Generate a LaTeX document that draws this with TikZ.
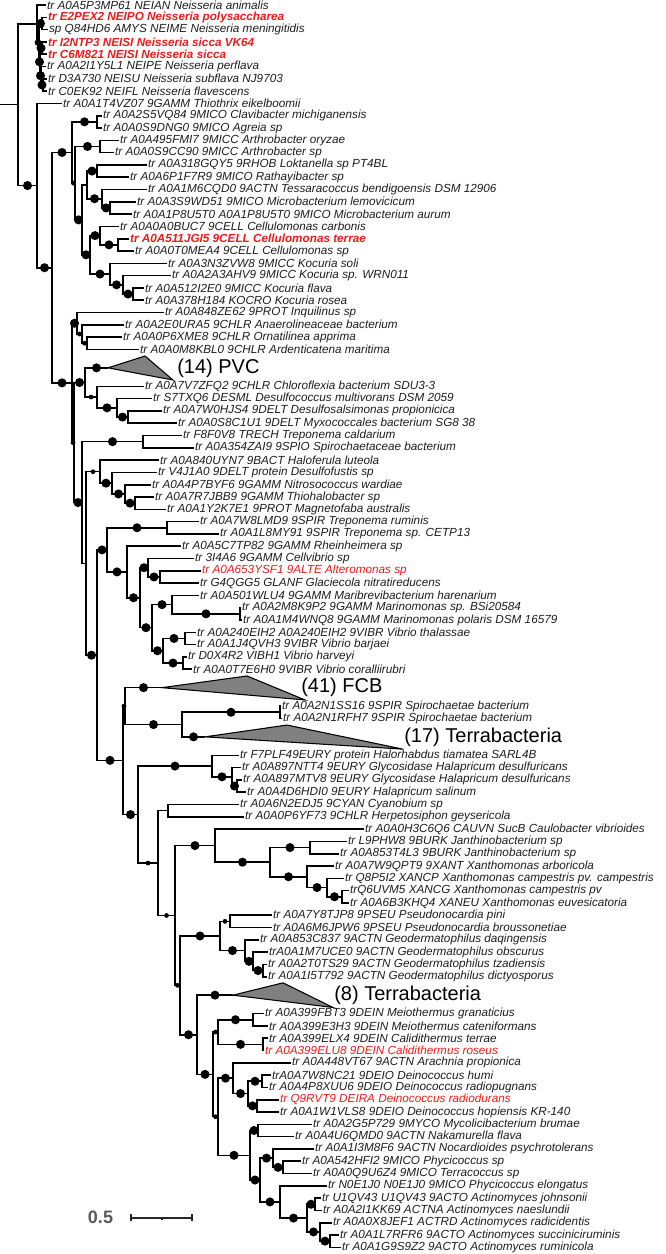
\documentclass[tikz,border=0pt]{standalone}
\usepackage{fontspec}
\setmainfont{Liberation Sans}
\definecolor{hlred}{RGB}{236,28,28}
\definecolor{leafink}{RGB}{30,30,30}
\definecolor{scalegray}{RGB}{90,90,90}
\tikzset{
  branch/.style={line width=1.2pt, black},
  leaf/.style={anchor=west, inner xsep=1pt, inner ysep=0pt, text=leafink, font=\fontsize{8.8}{10}\selectfont\itshape},
  hl/.style={leaf, text=hlred},
  hlb/.style={leaf, text=hlred, font=\fontsize{8.8}{10}\selectfont\bfseries\itshape},
  clade/.style={draw=black, line width=0.8pt, fill=black!50},
  cladelabel/.style={anchor=west, inner sep=0pt, font=\fontsize{15}{17}\selectfont},
  bsbig/.style={circle, fill=black, inner sep=0pt, minimum size=6.8pt},
  bsmid/.style={bsbig, minimum size=5pt},
  bssmall/.style={bsbig, minimum size=3.6pt},
  bsnone/.style={inner sep=0pt},
  scalebar/.style={line width=1.1pt, black!85}
}
\begin{document}
\begin{tikzpicture}[x=0.75pt, y=-9.225pt]
\fill[white] (0,-0.4065) rectangle (666,101.545);
\useasboundingbox (0,-0.4065) rectangle (666,101.545);

% internal nodes (x in px, y in leaf rows)
\coordinate (rootstub) at (0,8.105);
\coordinate (root) at (18,8.105);
\coordinate (Neis) at (37,1.53);
\coordinate (Neis2) at (39,3.06);
\coordinate (Neis3) at (42,1.5);
\coordinate (Neis4) at (40,4.625);
\coordinate (Neis5) at (42,3.5);
\coordinate (Neis6) at (41,5.75);
\coordinate (Neis7) at (43,6.5);
\coordinate (B) at (37,14.68);
\coordinate (C) at (52,21.36);
\coordinate (AC1) at (72,11.99);
\coordinate (Clav) at (97,9.5);
\coordinate (AC2) at (75,14.48);
\coordinate (Arthro) at (100,11.5);
\coordinate (AC5) at (82,17.47);
\coordinate (AC4) at (87,14.625);
\coordinate (Lok) at (97,13.5);
\coordinate (Tess) at (102,15.75);
\coordinate (Micro) at (110,16.5);
\coordinate (N90) at (90,20.31);
\coordinate (Cell) at (100,18.75);
\coordinate (CellT) at (118,19.5);
\coordinate (Koc) at (110,21.875);
\coordinate (Koc2) at (123,22.75);
\coordinate (Koc3) at (133,23.5);
\coordinate (E) at (72,30.72);
\coordinate (F) at (77,25.875);
\coordinate (F2) at (82,26.75);
\coordinate (F3) at (87,27.5);
\coordinate (E2) at (74,35.57);
\coordinate (H) at (85,30.69);
\coordinate (PVC) at (108,29.5);
\coordinate (I) at (97,31.875);
\coordinate (J) at (117,32.75);
\coordinate (K) at (128,33.5);
\coordinate (X) at (82,40.45);
\coordinate (Trep) at (143,35.5);
\coordinate (AD) at (86,45.40);
\coordinate (Hal) at (100,37.94);
\coordinate (Hal2) at (112,38.875);
\coordinate (Hal3) at (125,39.75);
\coordinate (Hal4) at (135,40.5);
\coordinate (AA) at (97,52.86);
\coordinate (P) at (107,44.30);
\coordinate (Q) at (167,42.5);
\coordinate (R) at (127,46.09);
\coordinate (S) at (140,48.19);
\coordinate (T) at (148,45.75);
\coordinate (V) at (160,46.5);
\coordinate (U) at (152,50.625);
\coordinate (W) at (172,48.75);
\coordinate (Z) at (240,49.5);
\coordinate (Y) at (163,52.5);
\coordinate (VibA) at (185,51.5);
\coordinate (VibB) at (183,53.5);
\coordinate (AB) at (123,61.41);
\coordinate (AE) at (125,57);
\coordinate (FCB) at (162,55.5);
\coordinate (AF) at (182,58.5);
\coordinate (Spiro) at (280,57.5);
\coordinate (T17) at (205,59.5);
\coordinate (AG) at (138,65.82);
\coordinate (Eury) at (212,61.875);
\coordinate (Eury2) at (232,62.75);
\coordinate (Eury3) at (237,63.5);
\coordinate (AH) at (158,69.76);
\coordinate (Cyan) at (168,65.5);
\coordinate (AI) at (175,74.02);
\coordinate (AJ) at (215,68.34);
\coordinate (AK) at (270,69.69);
\coordinate (Janth) at (310,68.5);
\coordinate (Xan) at (307,70.875);
\coordinate (Xan2) at (327,71.75);
\coordinate (Xan3) at (342,72.5);
\coordinate (AN) at (180,79.70);
\coordinate (AL) at (220,75.69);
\coordinate (Pseu) at (230,74.5);
\coordinate (Geo) at (245,76.875);
\coordinate (Geo2) at (253,77.75);
\coordinate (Geo3) at (263,78.5);
\coordinate (AO) at (197,83.72);
\coordinate (T8) at (233,80.5);
\coordinate (AP) at (213,86.94);
\coordinate (Therm) at (218,83.5);
\coordinate (Meio) at (253,82.5);
\coordinate (Cali) at (263,84.5);
\coordinate (AQ) at (218,90.38);
\coordinate (AR) at (233,87.25);
\coordinate (Dein) at (248,88.5);
\coordinate (DeinA) at (262,87.5);
\coordinate (DeinB) at (257,89.5);
\coordinate (AS) at (250,93.52);
\coordinate (AT) at (258,91.5);
\coordinate (AU) at (260,95.53);
\coordinate (AV) at (273,93.75);
\coordinate (AV2) at (283,94.5);
\coordinate (AW) at (280,97.31);
\coordinate (AX) at (307,98.625);
\coordinate (AY) at (315,97.5);
\coordinate (AZ) at (320,99.75);
\coordinate (BA) at (330,100.5);

% leaves
\node[leaf] (l0) at (45.5,0) {tr A0A5P3MP61 NEIAN Neisseria animalis};
\node[hlb] (l1) at (46.5,1) {tr E2PEX2 NEIPO Neisseria polysaccharea};
\node[leaf] (l2) at (47.5,2) {sp Q84HD6 AMYS NEIME Neisseria meningitidis};
\node[hlb] (l3) at (46.5,3) {tr I2NTP3 NEISI Neisseria sicca VK64};
\node[hlb] (l4) at (46.5,4) {tr C6M821 NEISI Neisseria sicca};
\node[leaf] (l5) at (45.5,5) {tr A0A2I1Y5L1 NEIPE Neisseria perflava};
\node[leaf] (l6) at (46.5,6) {tr D3A730 NEISU Neisseria subflava NJ9703};
\node[leaf] (l7) at (46.5,7) {tr C0EK92 NEIFL Neisseria flavescens};
\node[leaf] (l8) at (61.5,8) {tr A0A1T4VZ07 9GAMM Thiothrix eikelboomii};
\node[leaf] (l9) at (101.5,9) {tr A0A2S5VQ84 9MICO Clavibacter michiganensis};
\node[leaf] (l10) at (101.5,10) {tr A0A0S9DNG0 9MICO Agreia sp};
\node[leaf] (l11) at (118.5,11) {tr A0A495FMI7 9MICC Arthrobacter oryzae};
\node[leaf] (l12) at (113.5,12) {tr A0A0S9CC90 9MICC Arthrobacter sp};
\node[leaf] (l13) at (146.5,13) {tr A0A318GQY5 9RHOB Loktanella sp PT4BL};
\node[leaf] (l14) at (128.5,14) {tr A0A6P1F7R9 9MICO Rathayibacter sp};
\node[leaf] (l15) at (146.5,15) {tr A0A1M6CQD0 9ACTN Tessaracoccus bendigoensis DSM 12906};
\node[leaf] (l16) at (135.5,16) {tr A0A3S9WD51 9MICO Microbacterium lemovicicum};
\node[leaf] (l17) at (131.5,17) {tr A0A1P8U5T0 A0A1P8U5T0 9MICO Microbacterium aurum};
\node[leaf] (l18) at (118.5,18) {tr A0A0A0BUC7 9CELL Cellulomonas carbonis};
\node[hlb] (l19) at (128.5,19) {tr A0A511JGI5 9CELL Cellulomonas terrae};
\node[leaf] (l20) at (133.5,20) {tr A0A0T0MEA4 9CELL Cellulomonas sp};
\node[leaf] (l21) at (166.5,21) {tr A0A3N3ZVW8 9MICC Kocuria soli};
\node[leaf] (l22) at (170.5,22) {tr A0A2A3AHV9 9MICC Kocuria sp. WRN011};
\node[leaf] (l23) at (143.5,23) {tr A0A512I2E0 9MICC Kocuria flava};
\node[leaf] (l24) at (143.5,24) {tr A0A378H184 KOCRO Kocuria rosea};
\node[leaf] (l25) at (163.5,25) {tr A0A848ZE62 9PROT Inquilinus sp};
\node[leaf] (l26) at (123.5,26) {tr A0A2E0URA5 9CHLR Anaerolineaceae bacterium};
\node[leaf] (l27) at (121.5,27) {tr A0A0P6XME8 9CHLR Ornatilinea apprima};
\node[leaf] (l28) at (138.5,28) {tr A0A0M8KBL0 9CHLR Ardenticatena maritima};
\node[leaf] (l31) at (143.5,31) {tr A0A7V7ZFQ2 9CHLR Chloroflexia bacterium SDU3-3};
\node[leaf] (l32) at (151.5,32) {tr S7TXQ6 DESML Desulfococcus multivorans DSM 2059};
\node[leaf] (l33) at (161.5,33) {tr A0A7W0HJS4 9DELT Desulfosalsimonas propionicica};
\node[leaf] (l34) at (176.5,34) {tr A0A0S8C1U1 9DELT Myxococcales bacterium SG8 38};
\node[leaf] (l35) at (181.5,35) {tr F8F0V8 TRECH Treponema caldarium};
\node[leaf] (l36) at (193.5,36) {tr A0A354ZAI9 9SPIO Spirochaetaceae bacterium};
\node[leaf] (l37) at (158.5,37) {tr A0A840UYN7 9BACT Haloferula luteola};
\node[leaf] (l38) at (156.5,38) {tr V4J1A0 9DELT protein Desulfofustis sp};
\node[leaf] (l39) at (150.5,39) {tr A0A4P7BYF6 9GAMM Nitrosococcus wardiae};
\node[leaf] (l40) at (153.5,40) {tr A0A7R7JBB9 9GAMM Thiohalobacter sp};
\node[leaf] (l41) at (165.5,41) {tr A0A1Y2K7E1 9PROT Magnetofaba australis};
\node[leaf] (l42) at (198.5,42) {tr A0A7W8LMD9 9SPIR Treponema ruminis};
\node[leaf] (l43) at (218.5,43) {tr A0A1L8MY91 9SPIR Treponema sp. CETP13};
\node[leaf] (l44) at (180.5,44) {tr A0A5C7TP82 9GAMM Rheinheimera sp};
\node[leaf] (l45) at (193.5,45) {tr 3I4A6 9GAMM Cellvibrio sp};
\node[hl] (l46) at (200.5,46) {tr A0A653YSF1 9ALTE Alteromonas sp};
\node[leaf] (l47) at (198.5,47) {tr G4QGG5 GLANF Glaciecola nitratireducens};
\node[leaf] (l48) at (198.5,48) {tr A0A501WLU4 9GAMM Maribrevibacterium harenarium};
\node[leaf] (l49) at (240.5,49) {tr A0A2M8K9P2 9GAMM Marinomonas sp. BSi20584};
\node[leaf] (l50) at (241.5,50) {tr A0A1M4WNQ8 9GAMM Marinomonas polaris DSM 16579};
\node[leaf] (l51) at (195.5,51) {tr A0A240EIH2 A0A240EIH2 9VIBR Vibrio thalassae};
\node[leaf] (l52) at (195.5,52) {tr A0A1J4QVH3 9VIBR Vibrio barjaei};
\node[leaf] (l53) at (186.5,53) {tr D0X4R2 VIBH1 Vibrio harveyi};
\node[leaf] (l54) at (191.5,54) {tr A0A0T7E6H0 9VIBR Vibrio coralliirubri};
\node[leaf] (l57) at (280.5,57) {tr A0A2N1SS16 9SPIR Spirochaetae bacterium};
\node[leaf] (l58) at (281.5,58) {tr A0A2N1RFH7 9SPIR Spirochaetae bacterium};
\node[leaf] (l61) at (238.5,61) {tr F7PLF49EURY protein Halorhabdus tiamatea SARL4B};
\node[leaf] (l62) at (240.5,62) {tr A0A897NTT4 9EURY Glycosidase Halapricum desulfuricans};
\node[leaf] (l63) at (241.5,63) {tr A0A897MTV8 9EURY Glycosidase Halapricum desulfuricans};
\node[leaf] (l64) at (245.5,64) {tr A0A4D6HDI0 9EURY Halapricum salinum};
\node[leaf] (l65) at (238.5,65) {tr A0A6N2EDJ5 9CYAN Cyanobium sp};
\node[leaf] (l66) at (243.5,66) {tr A0A0P6YF73 9CHLR Herpetosiphon geysericola};
\node[leaf] (l67) at (363.5,67) {tr A0A0H3C6Q6 CAUVN SucB Caulobacter vibrioides};
\node[leaf] (l68) at (346.5,68) {tr L9PHW8 9BURK Janthinobacterium sp};
\node[leaf] (l69) at (338.5,69) {tr A0A853T4L3 9BURK Janthinobacterium sp};
\node[leaf] (l70) at (333.5,70) {tr A0A7W9QPT9 9XANT Xanthomonas arboricola};
\node[leaf] (l71) at (343.5,71) {tr Q8P5I2 XANCP Xanthomonas campestris pv. campestris};
\node[leaf] (l72) at (348.5,72) {trQ6UVM5 XANCG Xanthomonas campestris pv};
\node[leaf] (l73) at (348.5,73) {tr A0A6B3KHQ4 XANEU Xanthomonas euvesicatoria};
\node[leaf] (l74) at (271.5,74) {tr A0A7Y8TJP8 9PSEU Pseudonocardia pini};
\node[leaf] (l75) at (271.5,75) {tr A0A6M6JPW6 9PSEU Pseudonocardia broussonetiae};
\node[leaf] (l76) at (258.5,76) {tr A0A853C837 9ACTN Geodermatophilus daqingensis};
\node[leaf] (l77) at (267.5,77) {trA0A1M7UCE0 9ACTN Geodermatophilus obscurus};
\node[leaf] (l78) at (266.5,78) {tr A0A2T0TS29 9ACTN Geodermatophilus tzadiensis};
\node[leaf] (l79) at (266.5,79) {tr A0A1I5T792 9ACTN Geodermatophilus dictyosporus};
\node[leaf] (l82) at (263.5,82) {tr A0A399FBT3 9DEIN Meiothermus granaticius};
\node[leaf] (l83) at (267.5,83) {tr A0A399E3H3 9DEIN Meiothermus cateniformans};
\node[leaf] (l84) at (267.5,84) {tr A0A399ELX4 9DEIN Calidithermus terrae};
\node[hl] (l85) at (263.5,85) {tr A0A399ELU8 9DEIN Calidithermus roseus};
\node[leaf] (l86) at (290.5,86) {tr A0A448VT67 9ACTN Arachnia propionica};
\node[leaf] (l87) at (270.5,87) {trA0A7W8NC21 9DEIO Deinococcus humi};
\node[leaf] (l88) at (267.5,88) {tr A0A4P8XUU6 9DEIO Deinococcus radiopugnans};
\node[hl] (l89) at (278.5,89) {tr Q9RVT9 DEIRA Deinococcus radiodurans};
\node[leaf] (l90) at (278.5,90) {tr A0A1W1VLS8 9DEIO Deinococcus hopiensis KR-140};
\node[leaf] (l91) at (311.5,91) {tr A0A2G5P729 9MYCO Mycolicibacterium brumae};
\node[leaf] (l92) at (293.5,92) {tr A0A4U6QMD0 9ACTN Nakamurella flava};
\node[leaf] (l93) at (313.5,93) {tr A0A1I3M8F6 9ACTN Nocardioides psychrotolerans};
\node[leaf] (l94) at (300.5,94) {tr A0A542HFI2 9MICO Phycicoccus sp};
\node[leaf] (l95) at (311.5,95) {tr A0A0Q9U6Z4 9MICO Terracoccus sp};
\node[leaf] (l96) at (326.5,96) {tr N0E1J0 N0E1J0 9MICO Phycicoccus elongatus};
\node[leaf] (l97) at (320.5,97) {tr U1QV43 U1QV43 9ACTO Actinomyces johnsonii};
\node[leaf] (l98) at (321.5,98) {tr A0A2I1KK69 ACTNA Actinomyces naeslundii};
\node[leaf] (l99) at (331.5,99) {tr A0A0X8JEF1 ACTRD Actinomyces radicidentis};
\node[leaf] (l100) at (338.5,100) {tr A0A1L7RFR6 9ACTO Actinomyces succiniciruminis};
\node[leaf] (l101) at (340.5,101) {tr A0A1G9S9Z2 9ACTO Actinomyces ruminicola};

% collapsed clades
\draw[clade] (PVC) -- (145,28.54) -- (173,30.49) -- cycle;
\draw[clade] (FCB) -- (247,54.55) -- (305,56.5) -- cycle;
\draw[clade] (T17) -- (287,58.54) -- (403,60.5) -- cycle;
\draw[clade] (T8) -- (283,79.5) -- (333,81.5) -- cycle;
\node[cladelabel] (PVClab) at (177,29.5) {(14) PVC};
\node[cladelabel] (FCBlab) at (301,55.5) {(41) FCB};
\node[cladelabel] (T17lab) at (404,59.5) {(17) Terrabacteria};
\node[cladelabel] (T8lab) at (334,80.5) {(8) Terrabacteria};

% branches between internal nodes, with support dots
\draw[branch] (rootstub) -- (root);
\foreach \p/\c/\d in {root/Neis/bsnone, root/B/bsbig,
  Neis/Neis2/bsmid, Neis2/Neis3/bsbig, Neis2/Neis4/bsbig, Neis4/Neis5/bsbig, Neis4/Neis6/bsbig, Neis6/Neis7/bsbig,
  B/C/bsbig, C/AC1/bsbig, AC1/Clav/bsbig, AC1/AC2/bssmall, AC2/Arthro/bsbig, AC2/AC5/bsbig,
  AC5/AC4/bsnone, AC4/Lok/bsbig, AC4/Tess/bsbig, Tess/Micro/bsbig, AC5/N90/bsbig,
  N90/Cell/bsbig, Cell/CellT/bsbig, N90/Koc/bsbig, Koc/Koc2/bsbig, Koc2/Koc3/bsbig,
  C/E/bsbig, E/F/bsbig, F/F2/bssmall, F2/F3/bssmall, E/E2/bssmall, E2/H/bsbig,
  H/PVC/bsbig, H/I/bssmall, I/J/bsbig, J/K/bsbig,
  E2/X/bsbig, X/Trep/bsbig, X/AD/bsnone, AD/Hal/bssmall, Hal/Hal2/bsbig, Hal2/Hal3/bsbig, Hal3/Hal4/bsbig,
  AD/AA/bsbig, AA/P/bsbig, P/Q/bsbig, P/R/bsbig, R/S/bsbig, S/T/bsbig, T/V/bsbig,
  S/U/bsbig, U/W/bsbig, W/Z/bsbig, U/Y/bsbig, Y/VibA/bsbig, Y/VibB/bsbig,
  AA/AB/bsbig, AB/AE/bssmall, AE/FCB/bsbig, AE/AF/bsbig, AF/Spiro/bsbig, AF/T17/bsbig,
  AB/AG/bsbig, AG/Eury/bsbig, Eury/Eury2/bsbig, Eury2/Eury3/bsbig,
  AG/AH/bssmall, AH/Cyan/bsnone, AH/AI/bssmall,
  AI/AJ/bsbig, AJ/AK/bsbig, AK/Janth/bsbig, AK/Xan/bsbig, Xan/Xan2/bsbig, Xan2/Xan3/bsbig,
  AI/AN/bssmall, AN/AL/bsbig, AL/Pseu/bssmall, AL/Geo/bsbig, Geo/Geo2/bsbig, Geo2/Geo3/bsbig,
  AN/AO/bsbig, AO/T8/bsbig, AO/AP/bsbig, AP/Therm/bssmall, Therm/Meio/bsbig, Therm/Cali/bsbig,
  AP/AQ/bssmall, AQ/AR/bsbig, AR/Dein/bsbig, Dein/DeinA/bsbig, Dein/DeinB/bsbig,
  AQ/AS/bsbig, AS/AT/bsbig, AS/AU/bsbig, AU/AV/bsbig, AV/AV2/bsbig,
  AU/AW/bsbig, AW/AX/bsbig, AX/AY/bsbig, AX/AZ/bsbig, AZ/BA/bsbig}
  \draw[branch] (\p) |- (\c) node[pos=0.75, \d] {};

% branches to the leaves
\foreach \p/\c in {Neis/l0, Neis3/l1, Neis3/l2, Neis5/l3, Neis5/l4, Neis6/l5, Neis7/l6, Neis7/l7,
  B/l8, Clav/l9, Clav/l10, Arthro/l11, Arthro/l12, Lok/l13, Lok/l14, Tess/l15, Micro/l16, Micro/l17,
  Cell/l18, CellT/l19, CellT/l20, Koc/l21, Koc2/l22, Koc3/l23, Koc3/l24,
  F/l25, F2/l26, F3/l27, F3/l28, I/l31, J/l32, K/l33, K/l34, Trep/l35, Trep/l36,
  Hal/l37, Hal2/l38, Hal3/l39, Hal4/l40, Hal4/l41, Q/l42, Q/l43, R/l44, T/l45, V/l46, V/l47,
  W/l48, Z/l49, Z/l50, VibA/l51, VibA/l52, VibB/l53, VibB/l54, Spiro/l57, Spiro/l58,
  Eury/l61, Eury2/l62, Eury3/l63, Eury3/l64, Cyan/l65, Cyan/l66, AJ/l67, Janth/l68, Janth/l69,
  Xan/l70, Xan2/l71, Xan3/l72, Xan3/l73, Pseu/l74, Pseu/l75, Geo/l76, Geo2/l77, Geo3/l78, Geo3/l79,
  Meio/l82, Meio/l83, Cali/l84, Cali/l85, AR/l86, DeinA/l87, DeinA/l88, DeinB/l89, DeinB/l90,
  AT/l91, AT/l92, AV/l93, AV2/l94, AV2/l95, AW/l96, AY/l97, AY/l98, AZ/l99, BA/l100, BA/l101}
  \draw[branch] (\p) |- (\c.west);

% scale bar
\node[font=\fontsize{13.5}{15}\selectfont\bfseries, text=scalegray, inner sep=0pt] (sblab) at (100.5,98.6) {0.5};
\coordinate (sbl) at (131,98.6);
\coordinate (sbm) at (162,98.6);
\coordinate (sbr) at (192,98.6);
\draw[scalebar] (sbl) -- (sbr);
\draw[scalebar] ([yshift=2.6pt]sbl) -- ([yshift=-2.6pt]sbl);
\draw[scalebar] ([yshift=2.6pt]sbr) -- ([yshift=-2.6pt]sbr);
\draw[scalebar, line width=0.8pt] (sbm) -- ([yshift=-1.8pt]sbm);
\end{tikzpicture}
\end{document}
